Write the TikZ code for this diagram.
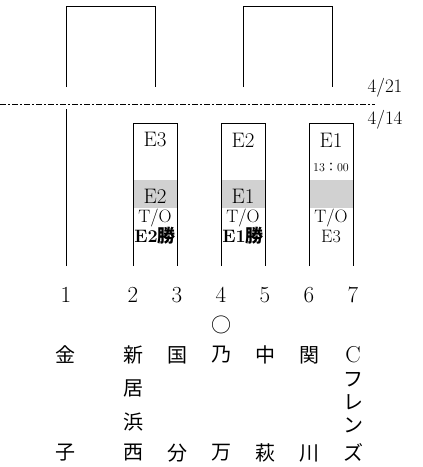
\documentclass[tikz,border=0pt]{standalone}
\usepackage{fontspec}
\newfontfamily\cjk{Noto Sans CJK JP}
\tikzset{bracket/.style={line width=0.9pt},
  daysep/.style={line width=0.8pt,dash pattern=on 6pt off 2pt on 2pt off 2pt},
  band/.style={fill=black!18},
  game/.style={inner sep=0pt,font=\fontsize{21}{21}\selectfont},
  score/.style={inner sep=0pt,font=\fontsize{18}{18}\selectfont},
  kickoff/.style={inner sep=0pt,font=\fontsize{12}{12}\selectfont},
  datelbl/.style={inner sep=0pt,font=\fontsize{19}{19}\selectfont},
  teamno/.style={inner sep=0pt,font=\fontsize{23}{23}\selectfont},
  teamname/.style={inner sep=0pt,font=\fontsize{20}{20}\selectfont\cjk}}

\begin{document}
\begin{tikzpicture}[x=1pt,y=-1pt]
  \useasboundingbox (0,0) rectangle (423,467);
  %
  % bottom ends of the team lines
  \foreach \x [count=\i] in {66,133,177,221,265,309,353}
    \coordinate (t\i) at (\x,266);
  %
  % grey bands behind the results
  \foreach \i/\j in {2/3,4/5,6/7}
    \fill[band] ([xshift=0.5pt]t\i |- 0,180) rectangle ([xshift=-0.5pt]t\j |- 0,208);
  %
  % first round (4/14)
  \draw[bracket] (t1) -- (t1 |- 0,109);
  \foreach \i/\j in {2/3,4/5,6/7}
    \draw[bracket] (t\i) |- (t\j |- 0,123) -- (t\j);
  %
  % second round (4/21)
  \draw[bracket] (t1 |- 0,87) |- (155,6) coordinate (w1) -- (w1 |- 0,87);
  \draw[bracket] (243,87) coordinate (w2) |- (332,6) coordinate (w3) -- (w3 |- 0,87);
  %
  % day separator
  \coordinate (sepl) at (0,104);
  \coordinate (sepr) at (375,104);
  \draw[daysep] (sepl) -- (sepr);
  \node[datelbl] (d421) at (385,88) {4/21};
  \node[datelbl] (d414) at (385,120) {4/14};
  %
  % games
  \node[game] (g3) at (155,140) {E3};
  \node[game] (g2) at (243,140) {E2};
  \node[game] (g1) at (331,140) {E1};
  \node[kickoff] (k1) at (331,167) {13{\cjk ：}00};
  \node[game] (r3) at (155,196) {E2};
  \node[game] (r2) at (243,196) {E1};
  \foreach \x/\n in {155/3,243/2,331/1}
    \node[score] (to\n) at (\x,218) {T/O};
  \node[score] (v3) at (155,236) {\bfseries E2{\cjk 勝}};
  \node[score] (v2) at (243,236) {\bfseries E1{\cjk 勝}};
  \node[score] (v1) at (331,237) {E3};
  %
  % teams
  \foreach \x [count=\i] in {66,133,177,221,265,309,353}
    \node[teamno] (n\i) at (\x,295) {\i};
  \node[teamname] (host) at (221,325) {○};
  \foreach \x/\a/\b [count=\i] in {66/金/子,133/新/西,177/国/分,221/乃/万,265/中/萩,309/関/川}
  {
    \node[teamname] (a\i) at (\x,355) {\a};
    \node[teamname] (b\i) at (\x,453) {\b};
  }
  \node[teamname] (a2m) at (133,388) {居};
  \node[teamname] (b2m) at (133,422) {浜};
  \node[teamno] (a7) at (353,355) {C};
  \foreach \y/\c [count=\i] in {380/フ,402/レ,425/ン,452/ズ}
    \node[teamname] (c\i) at (353,\y) {\c};
\end{tikzpicture}
\end{document}
